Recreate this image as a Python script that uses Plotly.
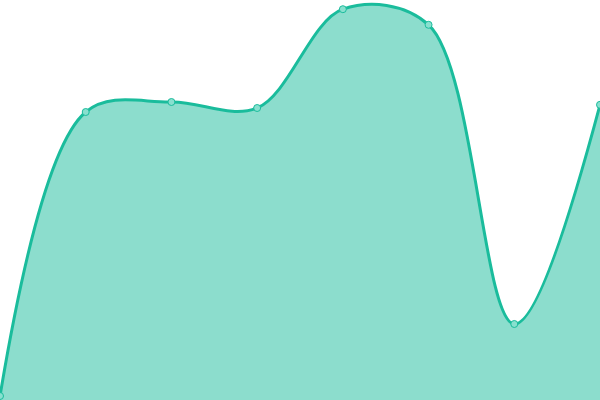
import plotly.graph_objects as go

# data
x_idx = [0, 1, 2, 3, 4, 5, 6, 7]
values = [1, 72, 74.5, 73, 97.7, 93.8, 19, 73.8]

fig = go.Figure()
fig.add_trace(go.Scatter(
    x=x_idx, y=values,
    mode='lines+markers',
    line=dict(color='#1abc9c', width=3, shape='spline', smoothing=1),
    fill='tozeroy',
    fillcolor='rgba(26,188,156,0.5)',
    marker=dict(size=7, color='#88e0cf', line=dict(color='#1abc9c', width=1)),
    cliponaxis=False,
    hoverinfo='x+y'
))

fig.update_layout(
    width=600, height=400,
    margin=dict(l=0, r=0, t=0, b=0),
    paper_bgcolor='white',
    plot_bgcolor='white',
    showlegend=False,
    xaxis=dict(range=[0, 7], visible=False, fixedrange=True),
    yaxis=dict(range=[0, 100], visible=False, fixedrange=True),
)

# drop the default 8px page margin so the chart fills the window
fig.write_html("out.html", config={'displayModeBar': False},
               post_script="document.body.style.margin='0';document.body.style.overflow='hidden';")
